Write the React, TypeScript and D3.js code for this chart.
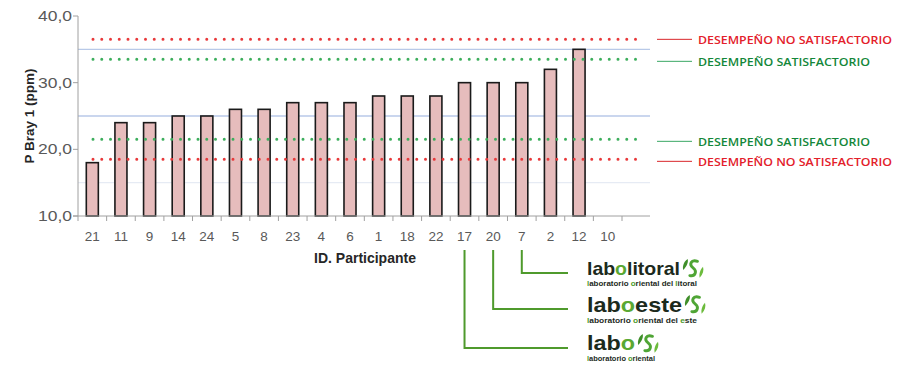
import React, { useEffect, useRef } from 'react';
import * as d3 from 'd3';

const participants = ['21', '11', '9', '14', '24', '5', '8', '23', '4', '6', '1', '18', '22', '17', '20', '7', '2', '12', '10'];
const pBray: (number | null)[] = [18, 24, 24, 25, 25, 26, 26, 27, 27, 27, 28, 28, 28, 30, 30, 30, 32, 35, null];
const yTicks = [10, 20, 30, 40];
const gridValues = [15, 25, 35];
const limitValues = [36.5, 33.5, 21.5, 18.5];
const limitLabels = ['DESEMPEÑO NO SATISFACTORIO', 'DESEMPEÑO SATISFACTORIO', 'DESEMPEÑO SATISFACTORIO', 'DESEMPEÑO NO SATISFACTORIO'];
const limitKinds = ['bad', 'good', 'good', 'bad'];
const logoCategories = ['7', '20', '17'];
const logoNames = [['lab', 'o', 'litoral'], ['lab', 'o', 'este'], ['lab', 'o', '']];
const logoSubs = [
    ['l', 'aboratorio ', 'o', 'riental del ', 'l', 'itoral'],
    ['l', 'aboratorio ', 'o', 'riental del ', 'e', 'ste'],
    ['l', 'aboratorio ', 'o', 'riental', '', ''],
];

const W = 900;
const H = 368;
const RED = '#e8383a';
const GREEN = '#3cae5c';
const LOGO_GREEN = '#4f9a2c';
const DARK = '#1c2a1c';

const App: React.FC = () => {
    const svgRef = useRef<SVGSVGElement>(null);

    useEffect(() => {
        if (!svgRef.current) return;
        const svg = d3.select(svgRef.current);
        svg.selectAll('*').remove();

        const left = 78, right = 622, top = 16, bottom = 216, plotRight = 650;

        const x = d3.scaleBand<string>().domain(participants).range([left, right]).padding(0);
        const y = d3.scaleLinear().domain([10, 40]).range([bottom, top]);
        const barW = x.bandwidth() * 0.42;

        // gridlines
        svg.append('g')
            .selectAll('line')
            .data(gridValues)
            .enter()
            .append('line')
            .attr('x1', left)
            .attr('x2', plotRight)
            .attr('y1', d => y(d))
            .attr('y2', d => y(d))
            .attr('stroke', d => (d === 15 ? '#e6ebf4' : '#b8c9e8'))
            .attr('stroke-width', 1.3);

        // bars
        svg.append('g')
            .selectAll('rect')
            .data(participants.map((p, i) => ({ p, v: pBray[i] })).filter(d => d.v !== null))
            .enter()
            .append('rect')
            .attr('x', d => (x(d.p) || 0) + (x.bandwidth() - barW) / 2)
            .attr('y', d => y(d.v as number))
            .attr('width', barW)
            .attr('height', d => bottom - y(d.v as number))
            .attr('fill', '#e6bcbc')
            .attr('stroke', '#1a1a1a')
            .attr('stroke-width', 1.6);

        // dotted performance limits
        svg.append('g')
            .selectAll('line')
            .data(limitValues)
            .enter()
            .append('line')
            .attr('x1', 93)
            .attr('x2', 640)
            .attr('y1', d => y(d))
            .attr('y2', d => y(d))
            .attr('stroke', (d, i) => (limitKinds[i] === 'bad' ? RED : GREEN))
            .attr('stroke-width', 3)
            .attr('stroke-linecap', 'round')
            .attr('stroke-dasharray', '0 8.75');

        // axes
        const axisColor = '#a0a0a0';
        svg.append('line')
            .attr('x1', left).attr('x2', left)
            .attr('y1', top).attr('y2', bottom)
            .attr('stroke', axisColor);
        svg.append('line')
            .attr('x1', left - 5).attr('x2', plotRight)
            .attr('y1', bottom).attr('y2', bottom)
            .attr('stroke', axisColor);

        svg.append('g')
            .selectAll('line')
            .data(yTicks)
            .enter()
            .append('line')
            .attr('x1', left - 5)
            .attr('x2', left)
            .attr('y1', d => y(d))
            .attr('y2', d => y(d))
            .attr('stroke', axisColor);

        svg.append('g')
            .selectAll('text')
            .data(yTicks)
            .enter()
            .append('text')
            .attr('x', 38)
            .attr('y', d => y(d) + 5)
            .attr('textLength', 34)
            .attr('lengthAdjust', 'spacingAndGlyphs')
            .attr('fill', '#595959')
            .style('font', '14px "Liberation Sans", Arial, sans-serif')
            .text(d => d3.format('.1f')(d).replace('.', ','));

        const catTicks = participants.map(p => x(p) as number).concat([right]);
        svg.append('g')
            .selectAll('line')
            .data(catTicks)
            .enter()
            .append('line')
            .attr('x1', d => d)
            .attr('x2', d => d)
            .attr('y1', bottom)
            .attr('y2', bottom + 5)
            .attr('stroke', axisColor);

        svg.append('g')
            .selectAll('text')
            .data(participants)
            .enter()
            .append('text')
            .attr('x', d => (x(d) || 0) + x.bandwidth() / 2)
            .attr('y', 241)
            .attr('text-anchor', 'middle')
            .attr('fill', '#595959')
            .style('font', '13.5px "Liberation Sans", Arial, sans-serif')
            .text(d => d);

        // axis titles
        svg.append('text')
            .attr('x', 365)
            .attr('y', 263)
            .attr('text-anchor', 'middle')
            .attr('fill', '#262626')
            .style('font', 'bold 14px "Liberation Sans", Arial, sans-serif')
            .text('ID. Participante');

        svg.append('text')
            .attr('transform', `translate(34,116) rotate(-90)`)
            .attr('text-anchor', 'middle')
            .attr('fill', '#262626')
            .style('font', 'bold 13.5px "Liberation Sans", Arial, sans-serif')
            .text('P Bray 1 (ppm)');

        // legend on the right
        const legend = svg.append('g')
            .selectAll('g')
            .data(limitValues)
            .enter()
            .append('g')
            .attr('transform', (d, i) => `translate(0,${y(d) + (i === 0 ? 0 : 2)})`);
        legend.append('line')
            .attr('x1', 657).attr('x2', 692)
            .attr('stroke', (d, i) => (limitKinds[i] === 'bad' ? '#d9262b' : '#3aa864'))
            .attr('stroke-width', 1);
        legend.append('text')
            .attr('x', 698)
            .attr('y', 4.5)
            .attr('fill', (d, i) => (limitKinds[i] === 'bad' ? '#e3202a' : '#13873a'))
            .attr('textLength', (d, i) => (limitKinds[i] === 'bad' ? 194 : 172))
            .attr('lengthAdjust', 'spacingAndGlyphs')
            .style('font', '600 11px "Open Sans", "Liberation Sans", Arial, sans-serif')
            .text((d, i) => limitLabels[i]);

        // leader lines to logos
        const logoY = [273, 309, 348];
        const logoTop = [261, 297, 336];
        const logoLen = [93, 95, 48];
        const logoSize = [19, 21, 20];
        const subLen = [110, 110, 68];
        logoCategories.forEach((c, i) => {
            const cx = (x(c) || 0) + x.bandwidth() / 2;
            svg.append('path')
                .attr('d', `M${cx},250 V${logoY[i]} H568`)
                .attr('fill', 'none')
                .attr('stroke', LOGO_GREEN)
                .attr('stroke-width', 2);

            const g = svg.append('g');
            const base = logoTop[i] + logoSize[i] * 0.72;
            const big = g.append('text')
                .attr('x', 587)
                .attr('y', base)
                .attr('textLength', logoLen[i])
                .attr('lengthAdjust', 'spacingAndGlyphs')
                .style('font', `bold ${logoSize[i]}px "Liberation Sans", Arial, sans-serif`);
            logoNames[i].forEach((part, j) => {
                if (!part) return;
                big.append('tspan')
                    .attr('fill', j === 1 ? '#5aa832' : DARK)
                    .text(part);
            });

            const sub = g.append('text')
                .attr('x', 587)
                .attr('y', base + 11)
                .attr('textLength', subLen[i])
                .attr('lengthAdjust', 'spacingAndGlyphs')
                .style('font', 'bold 7.5px "Liberation Sans", Arial, sans-serif');
            logoSubs[i].forEach((part, j) => {
                if (!part) return;
                sub.append('tspan')
                    .attr('fill', j % 2 === 0 ? '#4a9a2a' : DARK)
                    .text(part);
            });

            // leaf icon
            const ix = 587 + logoLen[i] + 1;
            const iy = logoTop[i] - 3;
            const icon = g.append('g').attr('transform', `translate(${ix},${iy}) scale(1.1)`);
            icon.append('path')
                .attr('d', 'M2,11 C1,7 3,3 6,1 C7,4 5,8 2,11 Z')
                .attr('fill', '#3f8f2a');
            icon.append('path')
                .attr('d', 'M15,3 C9,1 7,6 11,9 C15,12 13,17 8,16')
                .attr('fill', 'none')
                .attr('stroke', '#4fa535')
                .attr('stroke-width', 2.6)
                .attr('stroke-linecap', 'round');
            icon.append('path')
                .attr('d', 'M17,18 C16,14 18,10 20,8 C21,11 20,15 17,18 Z')
                .attr('fill', '#6cbb3c');
        });
    }, []);

    return (
        <svg
            ref={svgRef}
            width={W}
            height={H}
            style={{ position: 'absolute', left: 0, top: 0, background: '#ffffff' }}
        />
    );
};

export default App;
